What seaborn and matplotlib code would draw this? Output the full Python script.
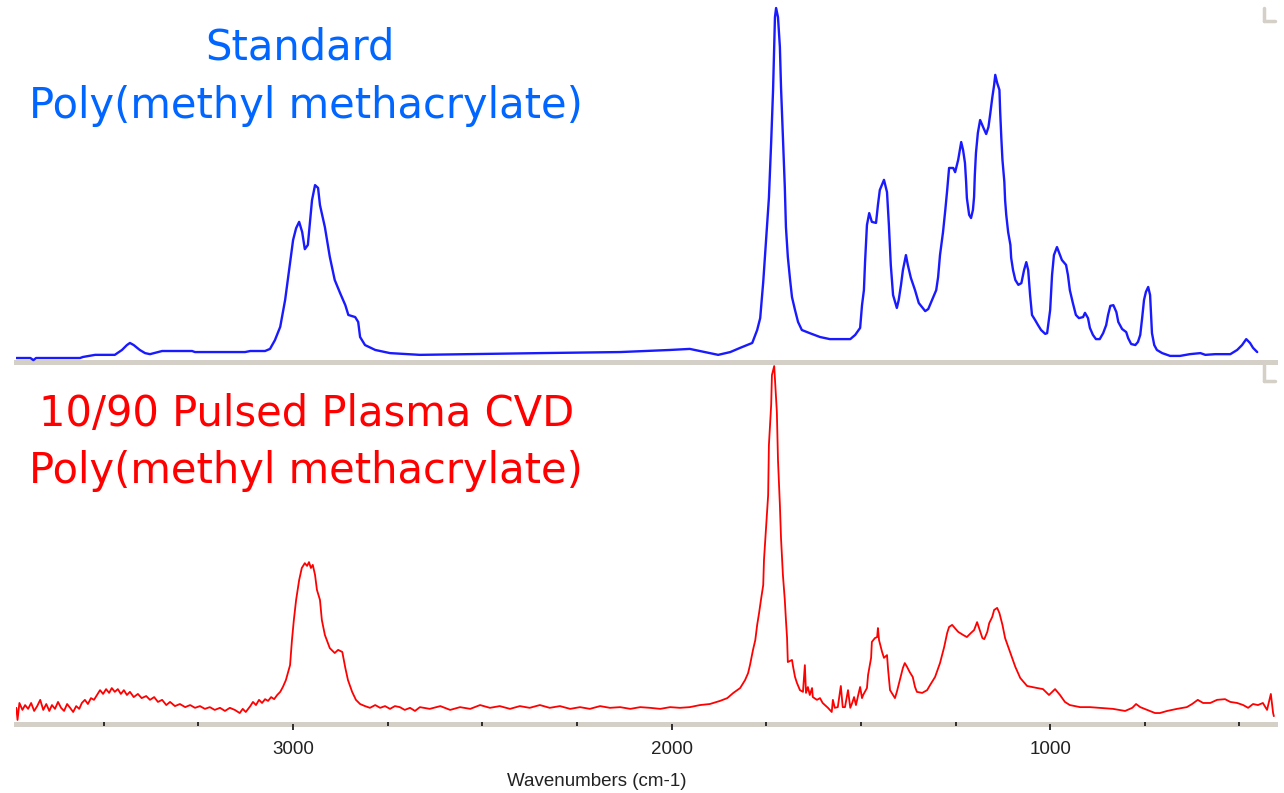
import matplotlib
matplotlib.use("Agg")
import matplotlib.pyplot as plt
from matplotlib.lines import Line2D
import seaborn as sns
import pandas as pd

# ---------------- data ----------------
std_wavenumber = [3731, 3694, 3686, 3679, 3563, 3555, 3523, 3471, 3452, 3439, 3431, 3421, 3405, 3391,
                  3378, 3346, 3267, 3259, 3127, 3113, 3074, 3061, 3048, 3034, 3021, 3008, 3000, 2992,
                  2984, 2976, 2969, 2961, 2956, 2950, 2942, 2934, 2929, 2916, 2903, 2890, 2876, 2862,
                  2854, 2836, 2828, 2823, 2810, 2783, 2744, 2665, 2532, 2348, 2136, 2004, 1952, 1912,
                  1877, 1845, 1819, 1787, 1774, 1766, 1758, 1751, 1743, 1737, 1732, 1729, 1727, 1724,
                  1719, 1714, 1711, 1706, 1701, 1698, 1693, 1687, 1682, 1674, 1666, 1656, 1635, 1608,
                  1582, 1528, 1515, 1502, 1497, 1492, 1489, 1486, 1484, 1478, 1471, 1460, 1455, 1450,
                  1439, 1431, 1426, 1421, 1415, 1405, 1400, 1394, 1389, 1381, 1376, 1368, 1357, 1347,
                  1330, 1322, 1312, 1301, 1296, 1291, 1283, 1277, 1272, 1267, 1256, 1251, 1243, 1235,
                  1230, 1225, 1222, 1220, 1214, 1209, 1204, 1201, 1199, 1196, 1191, 1185, 1176, 1169,
                  1163, 1158, 1153, 1148, 1145, 1140, 1134, 1132, 1129, 1126, 1121, 1119, 1116, 1111,
                  1105, 1103, 1098, 1092, 1084, 1076, 1069, 1063, 1058, 1053, 1048, 1040, 1032, 1024,
                  1013, 1008, 1000, 995, 990, 982, 976, 969, 958, 953, 948, 940, 932, 924, 913, 908,
                  900, 895, 887, 879, 869, 860, 852, 847, 841, 833, 825, 820, 810, 799, 794, 786, 775,
                  768, 762, 757, 752, 747, 741, 736, 733, 731, 725, 718, 704, 683, 657, 631, 603, 590,
                  564, 524, 506, 493, 482, 472, 464, 453]
std_absorbance = [0.000, 0.000, -0.006, 0.000, 0.000, 0.003, 0.009, 0.009, 0.023, 0.037, 0.043, 0.037,
                  0.023, 0.014, 0.011, 0.020, 0.020, 0.017, 0.017, 0.020, 0.020, 0.026, 0.051, 0.089,
                  0.166, 0.271, 0.337, 0.371, 0.389, 0.360, 0.311, 0.323, 0.380, 0.451, 0.494, 0.486,
                  0.437, 0.374, 0.289, 0.223, 0.186, 0.151, 0.123, 0.117, 0.103, 0.060, 0.037, 0.023,
                  0.014, 0.009, 0.011, 0.014, 0.017, 0.023, 0.026, 0.017, 0.009, 0.017, 0.029, 0.043,
                  0.080, 0.114, 0.217, 0.331, 0.457, 0.617, 0.766, 0.889, 0.974, 1.000, 0.974, 0.889,
                  0.774, 0.629, 0.489, 0.374, 0.289, 0.223, 0.174, 0.137, 0.103, 0.080, 0.071, 0.060,
                  0.054, 0.054, 0.066, 0.086, 0.151, 0.194, 0.274, 0.337, 0.380, 0.414, 0.389, 0.386,
                  0.437, 0.480, 0.509, 0.474, 0.380, 0.266, 0.180, 0.143, 0.166, 0.209, 0.251, 0.294,
                  0.266, 0.229, 0.194, 0.157, 0.134, 0.140, 0.166, 0.194, 0.231, 0.294, 0.360, 0.423,
                  0.480, 0.543, 0.543, 0.531, 0.566, 0.617, 0.594, 0.557, 0.503, 0.457, 0.409, 0.400,
                  0.423, 0.460, 0.523, 0.586, 0.643, 0.680, 0.657, 0.640, 0.660, 0.700, 0.743, 0.780,
                  0.809, 0.786, 0.766, 0.703, 0.629, 0.566, 0.503, 0.451, 0.409, 0.360, 0.323, 0.286,
                  0.251, 0.223, 0.209, 0.214, 0.251, 0.274, 0.251, 0.180, 0.123, 0.109, 0.094, 0.080,
                  0.069, 0.071, 0.137, 0.237, 0.294, 0.317, 0.300, 0.280, 0.266, 0.237, 0.194, 0.157,
                  0.123, 0.114, 0.117, 0.129, 0.114, 0.086, 0.066, 0.054, 0.054, 0.071, 0.094, 0.123,
                  0.149, 0.151, 0.131, 0.103, 0.083, 0.074, 0.057, 0.040, 0.037, 0.046, 0.066, 0.114,
                  0.166, 0.189, 0.203, 0.180, 0.114, 0.071, 0.037, 0.023, 0.014, 0.006, 0.006, 0.011,
                  0.014, 0.009, 0.011, 0.011, 0.023, 0.037, 0.054, 0.043, 0.029, 0.017]

ppcvd_wavenumber = [3731, 3728, 3723, 3715, 3708, 3700, 3692, 3684, 3676, 3668, 3660, 3652, 3644, 3637,
                    3629, 3621, 3613, 3605, 3597, 3589, 3581, 3573, 3565, 3558, 3550, 3542, 3534, 3526,
                    3518, 3510, 3502, 3494, 3486, 3479, 3471, 3463, 3455, 3447, 3439, 3431, 3421, 3410,
                    3400, 3388, 3378, 3367, 3357, 3346, 3335, 3325, 3312, 3299, 3285, 3272, 3259, 3246,
                    3233, 3220, 3207, 3193, 3180, 3167, 3154, 3141, 3133, 3125, 3113, 3106, 3098, 3090,
                    3082, 3074, 3066, 3058, 3050, 3042, 3034, 3027, 3019, 3013, 3008, 3003, 2998, 2992,
                    2984, 2977, 2969, 2963, 2958, 2953, 2948, 2942, 2937, 2929, 2924, 2916, 2903, 2890,
                    2881, 2870, 2862, 2855, 2844, 2834, 2823, 2810, 2797, 2783, 2770, 2757, 2744, 2731,
                    2718, 2705, 2691, 2678, 2665, 2639, 2611, 2585, 2559, 2532, 2506, 2480, 2454, 2427,
                    2401, 2375, 2348, 2322, 2295, 2268, 2242, 2216, 2189, 2163, 2136, 2109, 2083, 2057,
                    2030, 2004, 1978, 1952, 1925, 1899, 1872, 1853, 1837, 1819, 1806, 1798, 1793, 1785,
                    1779, 1774, 1769, 1764, 1758, 1756, 1751, 1745, 1743, 1737, 1735, 1729, 1727, 1722,
                    1719, 1714, 1711, 1706, 1701, 1698, 1695, 1693, 1682, 1679, 1674, 1669, 1661, 1653,
                    1648, 1645, 1640, 1635, 1629, 1627, 1616, 1608, 1601, 1587, 1577, 1574, 1569, 1561,
                    1553, 1548, 1542, 1534, 1528, 1523, 1518, 1513, 1507, 1502, 1497, 1494, 1484, 1481,
                    1473, 1471, 1463, 1457, 1455, 1452, 1444, 1439, 1431, 1428, 1423, 1415, 1410, 1405,
                    1397, 1389, 1384, 1378, 1371, 1363, 1357, 1352, 1338, 1325, 1317, 1304, 1291, 1280,
                    1272, 1267, 1259, 1254, 1243, 1230, 1220, 1209, 1201, 1193, 1188, 1179, 1174, 1166,
                    1161, 1153, 1148, 1140, 1134, 1126, 1119, 1105, 1092, 1079, 1061, 1034, 1019, 1003,
                    987, 974, 961, 948, 921, 895, 869, 834, 802, 783, 773, 762, 744, 723, 710, 691, 665,
                    639, 625, 610, 596, 577, 559, 538, 524, 506, 490, 477, 464, 451, 438, 427, 417, 411,
                    409]
ppcvd_absorbance = [0.012, -0.023, 0.026, 0.006, 0.020, 0.009, 0.026, 0.003, 0.017, 0.035, 0.006, 0.023,
                    0.003, 0.020, 0.009, 0.029, 0.012, 0.003, 0.023, 0.012, 0.000, 0.017, 0.009, 0.026,
                    0.035, 0.023, 0.040, 0.035, 0.049, 0.063, 0.052, 0.066, 0.055, 0.069, 0.058, 0.066,
                    0.052, 0.063, 0.049, 0.058, 0.043, 0.052, 0.040, 0.046, 0.035, 0.043, 0.029, 0.035,
                    0.020, 0.029, 0.017, 0.023, 0.014, 0.020, 0.012, 0.017, 0.009, 0.014, 0.006, 0.012,
                    0.003, 0.012, 0.006, -0.003, 0.009, 0.000, 0.017, 0.029, 0.020, 0.035, 0.026, 0.037,
                    0.032, 0.043, 0.037, 0.049, 0.058, 0.072, 0.092, 0.115, 0.135, 0.207, 0.265, 0.323,
                    0.380, 0.415, 0.429, 0.421, 0.432, 0.415, 0.424, 0.395, 0.352, 0.323, 0.265, 0.222,
                    0.184, 0.170, 0.179, 0.173, 0.127, 0.092, 0.058, 0.035, 0.023, 0.017, 0.012, 0.020,
                    0.012, 0.017, 0.009, 0.017, 0.014, 0.006, 0.012, 0.003, 0.014, 0.009, 0.017, 0.006,
                    0.014, 0.009, 0.020, 0.012, 0.017, 0.009, 0.017, 0.012, 0.020, 0.012, 0.017, 0.009,
                    0.014, 0.009, 0.017, 0.012, 0.014, 0.009, 0.014, 0.012, 0.009, 0.014, 0.012, 0.014,
                    0.020, 0.023, 0.032, 0.040, 0.055, 0.069, 0.092, 0.112, 0.135, 0.179, 0.207, 0.251,
                    0.285, 0.323, 0.366, 0.438, 0.524, 0.625, 0.769, 0.885, 0.971, 0.997, 0.957, 0.865,
                    0.726, 0.597, 0.501, 0.395, 0.323, 0.265, 0.213, 0.144, 0.150, 0.130, 0.101, 0.084,
                    0.063, 0.058, 0.135, 0.055, 0.072, 0.049, 0.069, 0.043, 0.035, 0.040, 0.026, 0.012,
                    0.000, 0.035, 0.012, 0.014, 0.075, 0.014, 0.014, 0.063, 0.012, 0.026, 0.043, 0.020,
                    0.049, 0.072, 0.040, 0.049, 0.069, 0.107, 0.156, 0.202, 0.213, 0.216, 0.242, 0.207,
                    0.173, 0.156, 0.164, 0.121, 0.063, 0.049, 0.040, 0.058, 0.092, 0.127, 0.141, 0.130,
                    0.115, 0.101, 0.072, 0.058, 0.055, 0.063, 0.078, 0.101, 0.141, 0.187, 0.228, 0.245,
                    0.251, 0.245, 0.231, 0.222, 0.216, 0.228, 0.236, 0.259, 0.242, 0.213, 0.210, 0.231,
                    0.256, 0.274, 0.294, 0.300, 0.285, 0.251, 0.213, 0.170, 0.130, 0.098, 0.075, 0.069,
                    0.066, 0.049, 0.066, 0.049, 0.029, 0.020, 0.014, 0.014, 0.012, 0.009, 0.003, 0.012,
                    0.023, 0.014, 0.006, -0.003, -0.003, 0.003, 0.009, 0.014, 0.023, 0.035, 0.026, 0.026,
                    0.035, 0.037, 0.029, 0.026, 0.020, 0.012, 0.023, 0.020, 0.026, 0.006, 0.052, -0.003,
                    -0.012]

major_ticks = [3000, 2000, 1000]
minor_ticks = [3500, 3250, 2750, 2500, 2250, 1750, 1500, 1250, 750, 500]
tick_labels = ["3000", "2000", "1000"]
x_label = "Wavenumbers (cm-1)"
title_std = ["Standard", "Poly(methyl methacrylate)"]
title_cvd = ["10/90 Pulsed Plasma CVD", "Poly(methyl methacrylate)"]

# ---------------- styling ----------------
W, H = 1284, 793
BAND = "#d4d0c8"
sns.set_theme(style="white")
plt.rcParams["font.family"] = ["DejaVu Sans"]

fig = plt.figure(figsize=(W / 100, H / 100), dpi=100)
fig.patch.set_facecolor("white")

def px_rect(x0, y0, x1, y1):
    return [x0 / W, 1 - y1 / H, (x1 - x0) / W, (y1 - y0) / H]

ax1 = fig.add_axes(px_rect(16, 0, 1275, 362))
ax2 = fig.add_axes(px_rect(16, 365, 1275, 724))

std_df = pd.DataFrame({"wavenumber": std_wavenumber, "absorbance": std_absorbance})
cvd_df = pd.DataFrame({"wavenumber": ppcvd_wavenumber, "absorbance": ppcvd_absorbance})

sns.lineplot(data=std_df, x="wavenumber", y="absorbance", ax=ax1, color="#1a1aff",
             linewidth=1.7, estimator=None)
sns.lineplot(data=cvd_df, x="wavenumber", y="absorbance", ax=ax2, color="#ff0000",
             linewidth=1.3, estimator=None)

for ax in (ax1, ax2):
    ax.set_xlim(3732, 406)
    ax.set_facecolor("white")
    for s in ("top", "left", "right"):
        ax.spines[s].set_visible(False)
    ax.spines["bottom"].set_color(BAND)
    ax.spines["bottom"].set_linewidth(3.6)
    ax.spines["bottom"].set_zorder(1)
    ax.set_ylabel("")
    ax.set_xlabel("")
    ax.set_yticks([])
    ax.grid(False)

ax1.set_ylim(-0.0114, 1.0229)
ax2.set_ylim(-0.0346, 1.0)

ax1.set_xticks([])
ax2.set_xticks(major_ticks)
ax2.set_xticklabels(tick_labels)
ax2.set_xticks(minor_ticks, minor=True)
ax2.tick_params(axis="x", which="both", bottom=True)
ax2.tick_params(axis="x", which="major", direction="out", length=4.5, width=1.3,
                color="#222222", labelsize=13.5, labelcolor="#222222", pad=8)
ax2.tick_params(axis="x", which="minor", direction="inout", length=3, width=1.3,
                color="#222222")
ax2.xaxis.set_zorder(3)
for lab in ax2.get_xticklabels():
    lab.set_fontfamily("Liberation Sans")

fig.text(597 / W, 1 - 781 / H, x_label, ha="center", va="center", fontsize=13.5,
         color="#222222", family="Liberation Sans")

# titles
fig.text(300 / W, 1 - 48 / H, title_std[0], ha="center", va="center", fontsize=30, color="#0066ff")
fig.text(306 / W, 1 - 106 / H, title_std[1], ha="center", va="center", fontsize=30, color="#0066ff")
fig.text(307 / W, 1 - 414 / H, title_cvd[0], ha="center", va="center", fontsize=30, color="#ff0000")
fig.text(306 / W, 1 - 471 / H, title_cvd[1], ha="center", va="center", fontsize=30, color="#ff0000")

# window corner marks
for (yt, yb) in ((8, 21), (365, 381)):
    fig.add_artist(Line2D([1264 / W, 1264 / W], [1 - yt / H, 1 - yb / H], color=BAND, lw=2.5,
                          transform=fig.transFigure))
    fig.add_artist(Line2D([1264 / W, 1275 / W], [1 - yb / H, 1 - yb / H], color=BAND, lw=2.5,
                          transform=fig.transFigure))

fig.savefig("out.png", dpi=100, facecolor="white")
